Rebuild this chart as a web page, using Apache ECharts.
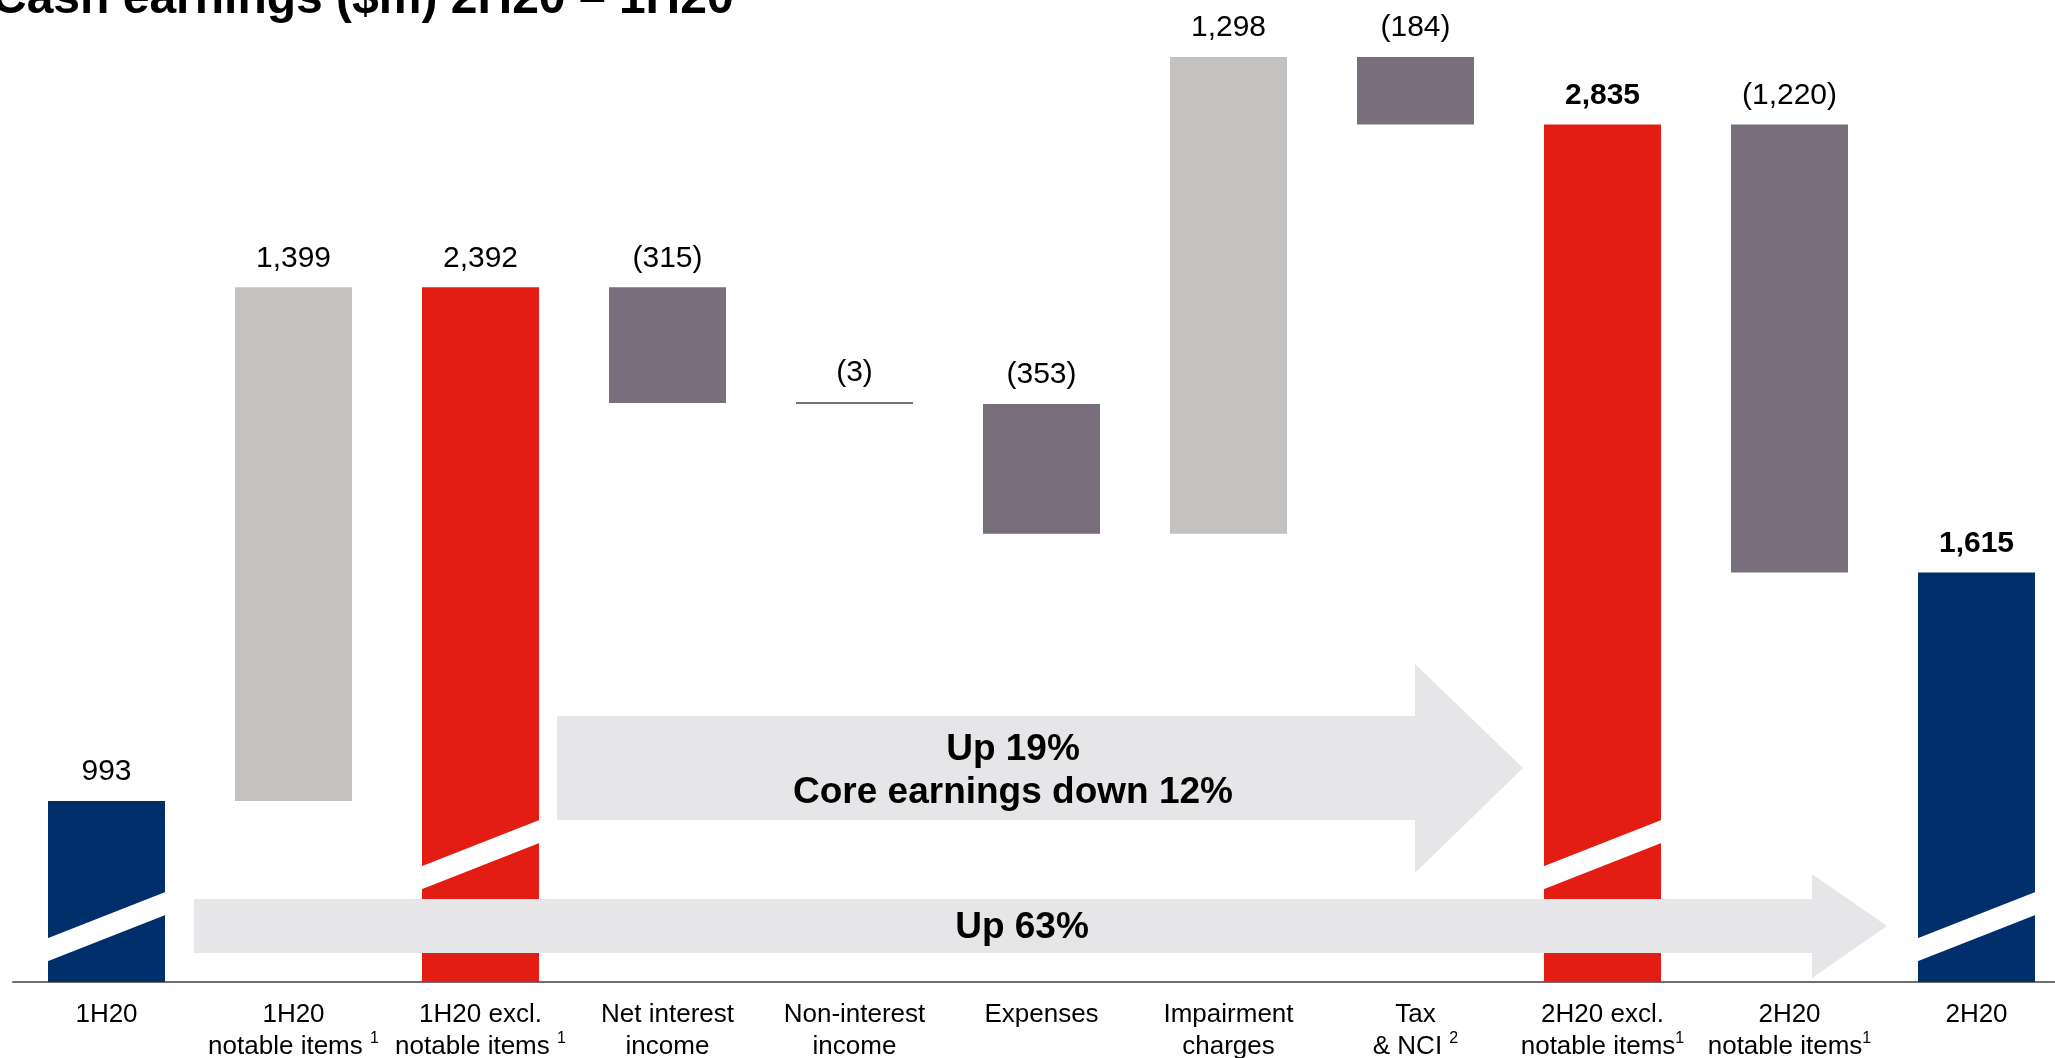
<!DOCTYPE html>
<html>
<head>
<meta charset="utf-8">
<script src="https://cdn.jsdelivr.net/npm/echarts@6/dist/echarts.min.js"></script>
<style>
  html, body { margin: 0; padding: 0; background: #fff; }
  #main { width: 2055px; height: 1058px; }
</style>
</head>
<body>
<div id="main"></div>
<script>
// categories along the x axis (rich tag {s|} = footnote mark)
var categories = [
  "1H20",
  "1H20\nnotable items {s|1}",
  "1H20 excl.\nnotable items {s|1}",
  "Net interest\nincome",
  "Non-interest\nincome",
  "Expenses",
  "Impairment\ncharges",
  "Tax\n& NCI {s|2}",
  "2H20 excl.\nnotable items{s|1}",
  "2H20\nnotable items{s|1}",
  "2H20"
];
// cash earnings movements, $m
var values = [993, 1399, 2392, -315, -3, -353, 1298, -184, 2835, -1220, 1615];
// total = starting/ending bar, sub = subtotal, step = movement
var kinds = ["total", "step", "sub", "step", "step", "step", "step", "step", "sub", "step", "total"];
var boldLabels = [8, 10];
// where the broken-bar slash sits on each tall bar
var breakMarks = [[0, 651], [2, 847], [8, 847], [10, 651]];

var colors = {
  total: "#002F6C",
  sub: "#E31D14",
  up: "#C3C2C0",
  down: "#786E7C"
};
var font = "Liberation Sans, Arial, sans-serif";
var barW = 117;

function fmt(v) {
  var s = Math.abs(v).toLocaleString("en-US");
  return v < 0 ? "(" + s + ")" : s;
}

// build waterfall base (invisible) + visible part
var baseData = [];
var barData = [];
var running = 0;
values.forEach(function (v, i) {
  var k = kinds[i];
  var color, base, h;
  if (k === "step") {
    if (v >= 0) { base = running; h = v; color = colors.up; }
    else { base = running + v; h = -v; color = colors.down; }
    running += v;
  } else {
    base = 0; h = v; running = v;
    color = colors[k];
  }
  baseData.push(base);
  barData.push({
    value: h,
    itemStyle: { color: color },
    label: { fontWeight: boldLabels.indexOf(i) >= 0 ? "bold" : "normal" }
  });
});

var chart = echarts.init(document.getElementById("main"));
chart.setOption({
  animation: false,
  grid: { left: 13, width: 2057, top: 10, bottom: 76, outerBoundsMode: "none" },
  xAxis: {
    type: "category",
    data: categories,
    axisLine: { lineStyle: { color: "#6F6F6F", width: 2 } },
    axisTick: { show: false },
    axisLabel: {
      interval: 0,
      margin: 17,
      color: "#000",
      fontFamily: font,
      fontSize: 26,
      lineHeight: 32,
      rich: {
        s: { fontSize: 16, lineHeight: 26, verticalAlign: "top", color: "#000", fontFamily: font }
      }
    }
  },
  yAxis: {
    type: "value",
    min: 500,
    max: 3147,
    show: false,
    splitLine: { show: false }
  },
  series: [
    {
      type: "bar",
      stack: "w",
      silent: true,
      barWidth: barW,
      itemStyle: { color: "transparent" },
      data: baseData
    },
    {
      type: "bar",
      stack: "w",
      barWidth: barW,
      barMinHeight: 2,
      label: {
        show: true,
        position: "top",
        distance: 14,
        color: "#000",
        fontFamily: font,
        fontSize: 30,
        formatter: function (p) { return fmt(values[p.dataIndex]); }
      },
      data: barData
    },
    {
      // white slashes marking the broken bars
      type: "custom",
      z: 5,
      silent: true,
      data: breakMarks,
      renderItem: function (params, api) {
        var c = api.coord([api.value(0), api.value(1)]);
        var half = barW / 2 + 1;
        var rise = 23 * half / (barW / 2);
        var t = 11.5;
        return {
          type: "polygon",
          shape: {
            points: [
              [c[0] - half, c[1] + rise - t],
              [c[0] + half, c[1] - rise - t],
              [c[0] + half, c[1] - rise + t],
              [c[0] - half, c[1] + rise + t]
            ]
          },
          style: { fill: "#fff" }
        };
      }
    }
  ],
  graphic: [
    {
      type: "text",
      x: -8,
      y: 0,
      z: 100,
      style: {
        text: "Cash earnings ($m) 2H20 – 1H20",
        fontFamily: font,
        fontSize: 48,
        fontWeight: "bold",
        fill: "#000",
        verticalAlign: "middle"
      }
    },
    {
      type: "polygon",
      z: 100,
      shape: { points: [[557, 716], [1415, 716], [1415, 664], [1523, 768], [1415, 873], [1415, 820], [557, 820]] },
      style: { fill: "#E6E5E8" }
    },
    {
      type: "text",
      x: 1013,
      y: 771,
      z: 101,
      style: {
        text: "Up 19%\nCore earnings down 12%",
        fontFamily: font,
        fontSize: 37,
        fontWeight: "bold",
        lineHeight: 43,
        fill: "#000",
        align: "center",
        verticalAlign: "middle"
      }
    },
    {
      type: "polygon",
      z: 100,
      shape: { points: [[194, 899], [1812, 899], [1812, 874], [1887, 926], [1812, 978], [1812, 953], [194, 953]] },
      style: { fill: "#E6E5E8" }
    },
    {
      type: "text",
      x: 1022,
      y: 928,
      z: 101,
      style: {
        text: "Up 63%",
        fontFamily: font,
        fontSize: 37,
        fontWeight: "bold",
        fill: "#000",
        align: "center",
        verticalAlign: "middle"
      }
    }
  ]
});
</script>
</body>
</html>
